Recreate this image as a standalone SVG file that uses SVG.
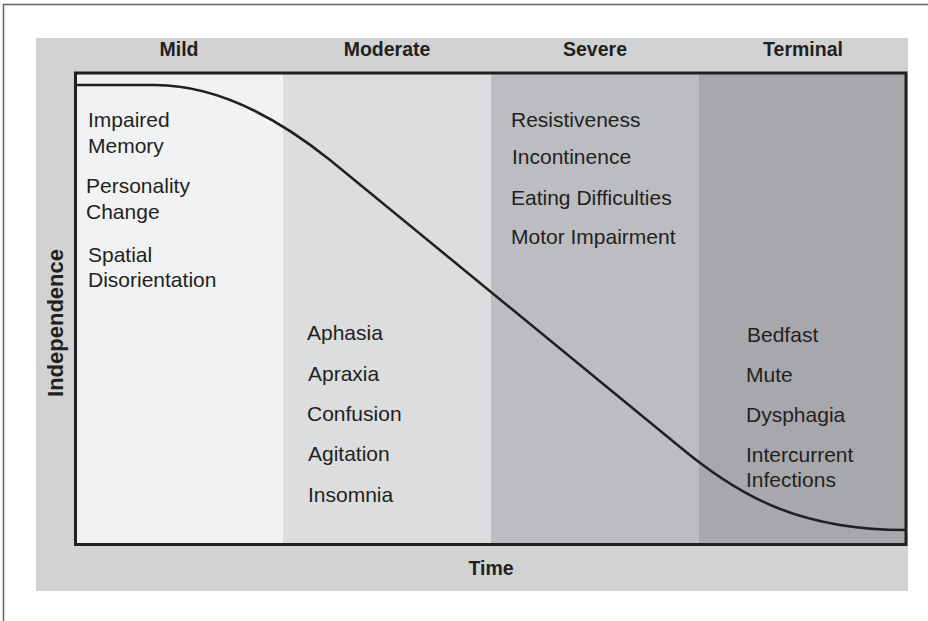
<svg xmlns="http://www.w3.org/2000/svg" width="928" height="621" viewBox="0 0 928 621">
<style>
.t{font-family:"Liberation Sans",Arial,sans-serif;font-size:21px;fill:#231f20}
.h{font-family:"Liberation Sans",Arial,sans-serif;font-size:19.5px;font-weight:bold;fill:#231f20;text-anchor:middle}
</style>
<rect width="928" height="621" fill="#fff"/>
<path d="M3.5,621 V4.5 H928" fill="none" stroke="#666" stroke-width="1.5"/>
<rect x="36" y="38" width="872" height="553" fill="#d1d2d4"/>
<g id="mild"><rect x="75" y="73" width="208" height="472" fill="#f1f2f3"/>
<text class="h" x="179" y="56">Mild</text>
<text class="t" x="88" y="127">Impaired</text><text class="t" x="88" y="153">Memory</text>
<text class="t" x="86" y="193">Personality</text><text class="t" x="86" y="219">Change</text>
<text class="t" x="88" y="262">Spatial</text><text class="t" x="88" y="287">Disorientation</text></g>
<g id="moderate"><rect x="283" y="73" width="208" height="472" fill="#dcdddf"/>
<text class="h" x="387" y="56">Moderate</text>
<text class="t" x="307" y="340">Aphasia</text>
<text class="t" x="308" y="381">Apraxia</text>
<text class="t" x="307" y="421">Confusion</text>
<text class="t" x="308" y="461">Agitation</text>
<text class="t" x="308" y="502">Insomnia</text></g>
<g id="severe"><rect x="491" y="73" width="208" height="472" fill="#bcbdc0"/>
<text class="h" x="595" y="56">Severe</text>
<text class="t" x="511" y="127">Resistiveness</text>
<text class="t" x="512" y="164">Incontinence</text>
<text class="t" x="511" y="205">Eating Difficulties</text>
<text class="t" x="511" y="244">Motor Impairment</text></g>
<g id="terminal"><rect x="699" y="73" width="207" height="472" fill="#a7a8ab"/>
<text class="h" x="803" y="56">Terminal</text>
<text class="t" x="747" y="342">Bedfast</text>
<text class="t" x="746" y="382">Mute</text>
<text class="t" x="746" y="422">Dysphagia</text>
<text class="t" x="746" y="462">Intercurrent</text>
<text class="t" x="746" y="487">Infections</text></g>
<g id="connectors">
<path d="M75,85 L155,85 C210,85 270,112 330,160 L680,447 C740,497 800,530 906,530" fill="none" stroke="#231f20" stroke-width="2.5"/>
</g>
<rect x="75.5" y="73" width="830.5" height="471.5" fill="none" stroke="#231f20" stroke-width="3"/>
<g id="axes">
<text class="h" x="491" y="575">Time</text>
<text class="h" transform="translate(63,323) rotate(-90)" style="font-size:22px">Independence</text>
</g>
</svg>
